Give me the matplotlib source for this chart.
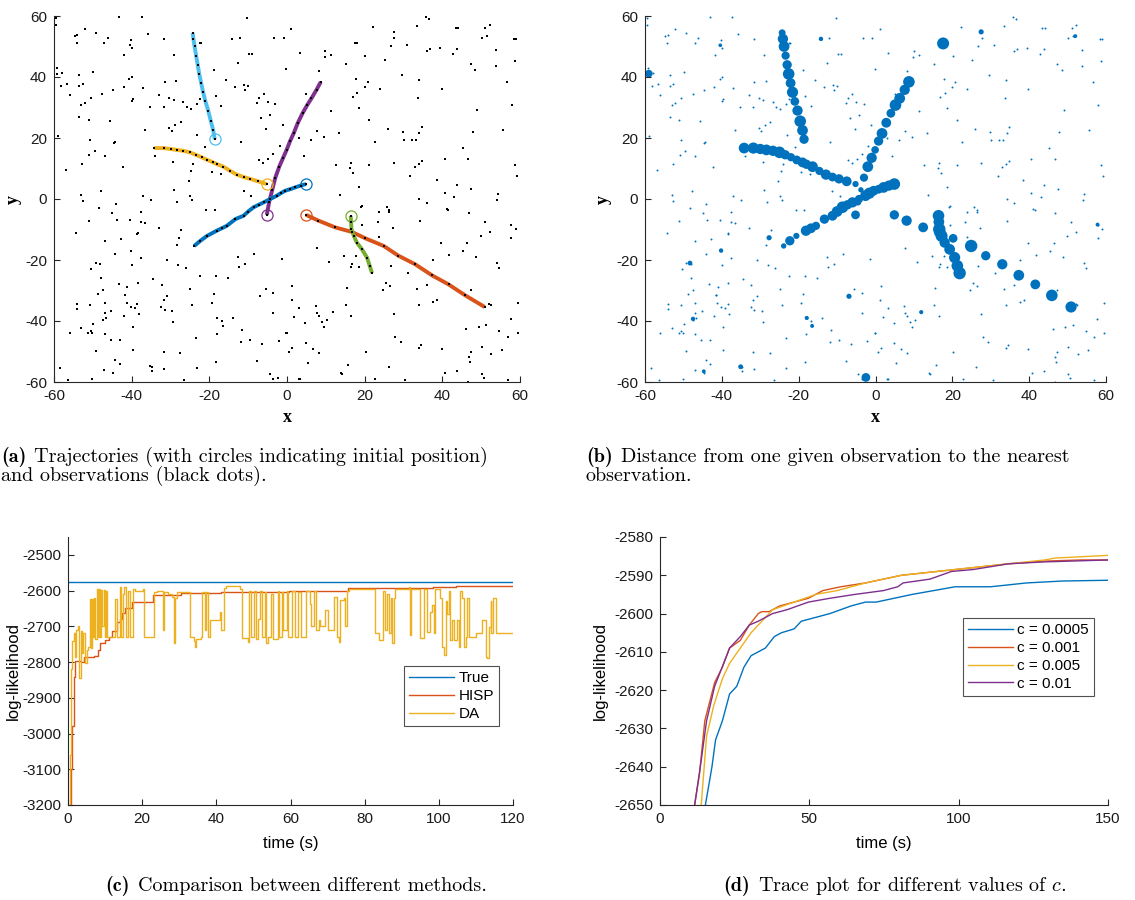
import matplotlib.pyplot as plt

# ---------------- data ----------------
# clutter observations (black dots in (a), small blue dots in (b))
clutter = [
    (-59.5, 59.5), (-59.5, 57.0), (-43.2, 59.7), (-37.3, 59.8), (-10.3, 59.5), (-52.1, 55.6), (-54.7, 53.5),
    (-54.0, 53.7), (-49.2, 54.5), (-54.2, 51.2), (-46.2, 52.7), (-47.1, 51.3), (-40.2, 52.1), (-40.4, 50.4),
    (-39.9, 49.5), (-35.9, 54.0), (-31.7, 52.5), (-29.1, 47.2), (-41.9, 47.1), (-14.2, 52.5), (-12.2, 52.7),
    (-22.5, 51.3), (-22.2, 51.0), (-3.3, 52.7), (-0.9, 52.7), (-9.1, 47.7), (-9.7, 47.4), (-12.6, 44.7),
    (-0.2, 42.7), (-59.3, 43.1), (-59.1, 41.1), (-58.0, 41.3), (-49.9, 41.8), (-53.6, 40.6), (-40.0, 40.0),
    (-40.6, 39.5), (-18.8, 42.4), (-15.8, 39.1), (-31.5, 38.5), (-28.6, 38.8), (-58.3, 37.2), (-56.7, 37.6),
    (-53.6, 37.2), (-52.6, 37.7), (-42.1, 36.8), (-44.7, 35.8), (-47.6, 34.4), (-56.0, 34.0), (-37.0, 36.5),
    (-33.0, 34.1), (-30.4, 33.1), (-29.2, 32.3), (-11.0, 37.3), (-10.0, 37.2), (-10.9, 35.9), (-13.4, 36.7),
    (-6.0, 34.5), (-7.1, 33.0), (-7.8, 31.4), (-5.0, 31.7), (-3.1, 31.2), (-18.4, 33.8), (-16.9, 30.4),
    (-39.6, 32.7), (-39.9, 32.2), (-52.1, 31.6), (-53.1, 30.8), (-50.5, 33.2), (-35.4, 30.1), (-31.8, 30.1),
    (-26.7, 31.8), (-25.8, 30.2), (-24.8, 29.4), (-23.2, 31.2), (-22.4, 32.9), (-53.5, 27.0), (-51.1, 25.8),
    (-45.6, 25.5), (-36.5, 22.6), (-30.3, 23.2), (-29.7, 22.3), (-28.8, 24.2), (-27.4, 25.4), (-6.6, 26.4),
    (-4.3, 27.5), (-5.4, 23.1), (-1.1, 24.1), (-59.0, 20.7), (-23.1, 21.0), (-11.9, 18.6), (-50.7, 19.2),
    (-44.4, 18.6), (-44.6, 18.2), (-21.0, 17.2), (-1.9, 17.5), (-49.5, 15.8), (-46.9, 14.1), (-50.9, 14.3),
    (-33.9, 14.0), (-52.8, 11.4), (-29.4, 12.2), (-7.1, 12.8), (-6.2, 11.7), (-3.6, 14.8), (-4.8, 13.1),
    (-42.3, 10.4), (-57.0, 9.6), (-24.1, 11.4), (-24.6, 9.1), (-19.3, 8.7), (-17.0, 8.2), (-25.3, 6.0),
    (-29.1, 3.0), (-47.8, 2.7), (-53.1, 1.2), (-37.0, 0.9), (-24.9, 1.0), (-11.2, 2.7), (-9.3, 1.0),
    (1.1, 55.7), (3.3, 48.0), (9.9, 48.4), (9.7, 46.6), (11.4, 47.1), (8.3, 42.0), (22.2, 56.5), (27.5, 54.8),
    (27.6, 52.8), (26.7, 50.1), (17.4, 51.0), (18.1, 51.1), (20.2, 47.0), (15.2, 44.4), (25.2, 45.7),
    (30.8, 50.6), (33.4, 56.8), (35.8, 59.8), (36.5, 59.0), (36.1, 48.6), (36.8, 49.3), (39.4, 49.4),
    (43.4, 56.0), (44.0, 56.1), (42.7, 47.4), (43.9, 49.1), (50.1, 52.8), (51.1, 56.2), (52.3, 56.9),
    (51.4, 53.4), (53.8, 48.8), (47.3, 44.2), (48.5, 42.2), (53.7, 43.5), (58.5, 52.3), (59.0, 52.4),
    (58.8, 45.2), (56.7, 38.4), (17.8, 39.4), (20.8, 38.3), (20.0, 36.6), (23.9, 36.0), (18.1, 34.6),
    (16.9, 33.6), (18.6, 29.8), (29.6, 40.5), (33.9, 38.9), (39.8, 36.2), (33.7, 33.0), (11.4, 28.9),
    (5.0, 34.3), (21.2, 25.9), (7.6, 22.2), (9.5, 20.4), (6.2, 19.3), (13.3, 21.8), (22.6, 18.7), (26.0, 22.8),
    (29.8, 21.9), (30.1, 19.3), (32.2, 19.5), (33.2, 19.5), (34.1, 21.6), (34.8, 23.6), (49.0, 29.3),
    (58.0, 30.8), (55.7, 22.7), (47.8, 21.9), (45.2, 16.8), (40.6, 13.2), (46.6, 13.2), (4.4, 14.1),
    (12.6, 11.0), (16.6, 11.8), (16.2, 10.1), (17.1, 8.5), (21.2, 11.2), (27.5, 11.7), (31.8, 7.7),
    (33.0, 10.4), (33.9, 11.4), (34.8, 12.6), (38.5, 6.3), (43.9, 4.5), (47.5, 3.3), (58.8, 11.1),
    (59.3, 7.7), (18.6, 3.8), (13.6, 1.3), (40.6, 1.9), (54.4, 1.7), (3.0, 20.0),
    (-52.6, -0.6), (-35.1, -0.2), (-28.2, -0.9), (-24.4, -0.4), (-44.0, -1.6), (-48.3, -3.0), (-37.7, -4.4),
    (-45.0, -4.7), (-51.1, -7.2), (-43.8, -6.8), (-40.4, -7.0), (-37.7, -7.4), (-36.5, -7.9), (-54.3, -11.3),
    (-38.3, -11.1), (-38.5, -11.5), (-32.9, -9.5), (-27.2, -10.1), (-20.8, -3.7), (-18.6, -3.6),
    (-27.7, -12.7), (-42.8, -13.1), (-46.9, -13.8), (-28.4, -15.1), (-40.2, -16.9), (-44.2, -18.0),
    (-37.5, -19.2), (-30.8, -19.9), (-49.2, -20.9), (-48.1, -21.3), (-50.4, -23.0), (-40.0, -21.5),
    (-28.0, -21.5), (-26.1, -22.6), (-48.0, -25.8), (-34.6, -26.1), (-38.3, -27.5), (-43.3, -28.0),
    (-41.1, -28.8), (-32.3, -28.1), (-47.5, -29.9), (-48.7, -31.0), (-41.6, -31.4), (-41.6, -31.6),
    (-30.8, -31.7), (-31.8, -33.0), (-24.9, -29.6), (-22.5, -25.4), (-18.4, -25.2), (-15.1, -25.9),
    (-12.7, -19.1), (-12.4, -22.2), (-10.7, -21.3), (-8.5, -18.0), (-1.4, -19.7), (-54.0, -34.5),
    (-54.0, -36.2), (-50.7, -34.9), (-46.9, -34.2), (-46.9, -37.4), (-41.3, -34.0), (-40.2, -35.4),
    (-39.2, -35.7), (-38.5, -34.4), (-45.2, -36.7), (-38.2, -37.6), (-32.5, -35.3), (-31.5, -36.4),
    (-29.6, -36.7), (-24.4, -34.7), (-19.3, -34.0), (-18.8, -31.1), (-5.5, -29.4), (-6.9, -31.9),
    (-3.6, -30.9), (-3.6, -37.4), (-42.1, -38.4), (-47.5, -39.7), (-46.6, -39.0), (-49.9, -40.9),
    (-53.1, -42.3), (-56.0, -43.8), (-51.2, -43.9), (-50.5, -43.2), (-50.2, -43.9), (-46.9, -44.2),
    (-39.7, -41.9), (-29.4, -40.4), (-23.4, -45.6), (-18.1, -44.1), (-17.9, -39.0), (-16.7, -39.9),
    (-16.5, -41.6), (-14.0, -39.0), (-11.5, -43.0), (-11.9, -46.9), (-9.5, -46.1), (-6.4, -47.6),
    (-2.1, -46.6), (-0.2, -43.8), (-49.2, -49.9), (-45.4, -46.3), (-43.0, -46.3), (-39.6, -49.6),
    (-31.8, -50.3), (-27.5, -50.4), (-44.2, -52.9), (-43.0, -54.2), (-58.5, -55.3), (-47.1, -56.0),
    (-44.7, -57.0), (-35.4, -54.8), (-34.7, -55.0), (-34.7, -56.5), (-31.6, -55.9), (-23.2, -55.5),
    (-18.4, -53.3), (-7.8, -53.1), (-4.5, -57.5), (-3.6, -59.0), (-2.4, -58.8), (-56.4, -59.5),
    (-50.2, -59.1), (-26.5, -59.3),
    (19.3, -2.2), (19.1, -2.6), (25.7, -2.6), (26.3, -3.5), (26.3, -4.4), (23.8, -4.1), (34.1, 0.0),
    (36.1, -1.3), (43.0, 0.5), (54.0, -0.4), (41.1, -3.3), (41.5, -3.7), (46.8, -4.6), (50.9, -7.4),
    (52.3, -10.8), (49.9, -12.2), (57.8, -8.4), (59.0, -9.9), (57.8, -12.9), (34.2, -7.2), (23.4, -7.7),
    (19.3, -8.6), (27.2, -9.4), (7.8, -16.1), (10.9, -20.8), (14.7, -18.6), (15.5, -29.1), (17.8, -18.6),
    (18.6, -22.2), (16.6, -22.4), (16.7, -21.4), (23.8, -12.4), (26.7, -21.9), (25.5, -27.4), (26.5, -28.5),
    (24.6, -29.8), (31.2, -24.1), (33.4, -29.6), (36.0, -28.3), (37.7, -20.0), (39.6, -14.4), (41.8, -18.3),
    (45.3, -17.2), (48.7, -18.9), (46.4, -14.3), (54.2, -21.1), (54.7, -22.6), (33.9, -34.8), (37.7, -33.7),
    (38.7, -33.1), (47.3, -29.8), (52.1, -34.3), (52.5, -34.9), (59.5, -34.0), (57.6, -39.5), (1.4, -28.6),
    (1.3, -33.0), (3.2, -35.6), (1.9, -38.6), (7.4, -35.0), (7.8, -37.5), (8.3, -38.2), (9.0, -40.4),
    (10.2, -39.8), (9.5, -42.1), (11.9, -37.1), (4.7, -40.5), (15.2, -34.7), (16.4, -38.4), (27.5, -37.6),
    (-0.1, -43.9), (4.9, -47.3), (6.6, -49.1), (1.4, -48.9), (0.6, -50.0), (8.3, -50.6), (5.4, -53.7),
    (15.7, -54.5), (14.1, -57.3), (13.8, -57.0), (20.3, -50.3), (26.2, -55.0), (27.9, -45.4), (29.4, -46.9),
    (33.9, -48.8), (34.4, -47.9), (39.8, -49.2), (46.1, -42.5), (49.4, -42.0), (51.3, -41.3), (54.7, -43.2),
    (56.8, -45.1), (59.5, -44.0), (50.1, -48.5), (47.3, -50.1), (46.8, -51.9), (47.1, -53.4), (52.6, -50.7),
    (55.4, -49.5), (40.8, -57.2), (43.9, -56.3), (50.2, -57.5), (50.7, -58.8), (46.6, -59.9), (56.9, -59.3),
    (22.7, -58.9), (30.5, -59.5), (3.0, -59.0), (3.3, -59.0),
]

# target trajectories (x, y) -- first point is the initial position
traj_lightblue_x = [-18.6, -19.0, -19.6, -20.3, -21.0, -21.6, -22.1, -22.6, -23.0, -23.4, -23.8, -24.1, -24.3]
traj_lightblue_y = [19.6, 22.5, 25.5, 29.0, 32.0, 35.0, 38.0, 41.0, 44.0, 47.0, 50.0, 52.5, 54.5]
traj_yellow_x = [-5.2, -7.5, -9.5, -11.2, -12.9, -14.6, -16.4, -18.0, -19.0, -20.5, -22.0, -23.5, -25.0, -26.7,
                 -28.4, -30.0, -31.8, -34.2]
traj_yellow_y = [4.9, 5.8, 6.6, 7.2, 8.0, 9.2, 10.6, 11.4, 12.0, 12.8, 13.7, 14.5, 15.3, 15.8, 16.1, 16.4, 16.7, 16.7]
traj_purple_x = [-5.2, -4.6, -3.8, -3.0, -2.0, -1.0, -0.1, 0.8, 1.7, 2.8, 4.0, 5.2, 6.3, 7.6, 8.7]
traj_purple_y = [-5.2, -1.0, 3.0, 7.0, 10.6, 13.5, 16.1, 19.0, 21.5, 25.0, 28.1, 30.8, 33.0, 35.8, 38.4]
traj_blue_x = [4.9, 3.5, 2.1, 0.8, -0.5, -1.6, -2.6, -4.3, -6.0, -7.3, -8.6, -10.0, -11.2, -13.3, -15.5, -16.8,
               -18.1, -20.6, -22.3, -23.9]
traj_blue_y = [4.9, 4.4, 3.8, 3.2, 2.7, 1.9, 1.1, 0.0, -1.1, -1.9, -2.7, -4.1, -5.5, -6.6, -8.8, -9.6, -10.4,
               -12.1, -13.7, -15.4]
traj_orange_x = [4.9, 8.1, 12.4, 16.7, 20.2, 24.9, 28.7, 33.0, 37.3, 41.6, 45.9, 50.9]
traj_orange_y = [-5.2, -7.1, -9.3, -10.8, -12.9, -15.4, -18.6, -21.4, -25.0, -28.0, -31.6, -35.4]
traj_green_x = [16.4, 16.5, 16.6, 17.2, 18.0, 19.3, 20.6, 21.3, 21.9]
traj_green_y = [-5.5, -7.5, -9.9, -12.1, -14.3, -16.5, -19.2, -21.9, -24.3]

# (b) marker sizes of the observations on each trajectory
size_lightblue = [45, 60, 70, 55, 40, 65, 50, 70, 45, 35, 60, 55, 25]
size_yellow = [20, 50, 45, 40, 55, 35, 60, 45, 50, 40, 35, 45, 70, 55, 60, 55, 65, 60]
size_purple = [40, 25, 15, 35, 60, 55, 30, 45, 60, 50, 40, 70, 60, 55, 70]
size_blue = [70, 55, 60, 40, 50, 65, 60, 35, 55, 45, 70, 60, 50, 45, 35, 50, 55, 20, 45, 15]
size_orange = [45, 55, 50, 70, 40, 80, 45, 55, 60, 50, 70, 65]
size_green = [70, 60, 80, 75, 55, 60, 65, 70, 80]
# (b) clutter observations with a larger nearest-neighbour marker
bigc_x = [17.6, -59.0, -2.5, 27.5, -14.2, -48.3, -47.5, -40.2, -27.7, -6.9, -17.9, -16.5, 11.9, -35.1,
          -44.7, 57.8, 52.0, -40.4]
bigc_y = [51.0, 41.1, -58.5, 54.8, 52.5, -21.0, -39.3, -16.9, -12.7, -31.9, -39.0, -41.6, -37.1, -55.0,
          -56.5, -8.4, 53.4, 50.4]
bigc_s = [75, 30, 40, 14, 10, 12, 10, 10, 14, 14, 9, 8, 9, 12, 8, 8, 8, 7]

# (c) comparison between methods
true_t = [0, 120]
true_ll = [-2577, -2577]
hisp_t = [0.5, 0.8, 1.2, 1.6, 1.9, 3.6, 4.2, 7.0, 8.2, 8.5, 10.1, 11.0, 11.9, 13.2, 14.1, 14.6, 15.5, 17.2,
          22.6, 22.8, 30.6, 41.3, 59.5, 75.5, 98.5, 104.5, 120]
hisp_ll = [-3200, -3100, -2980, -2841, -2797, -2800, -2785, -2783, -2767, -2748, -2739, -2730, -2712, -2689,
           -2680, -2662, -2650, -2632, -2632, -2613, -2607, -2604, -2601, -2594, -2590, -2588, -2588]
da_t = [0.3, 0.6, 0.9, 1.1, 1.5, 1.9, 2.1, 2.6, 2.9, 3.1, 3.4, 3.8, 4.1, 4.6, 5.1, 5.5, 5.9, 6.1, 6.5, 6.8,
        7.0, 7.2, 7.7, 8.0, 8.4, 8.7, 9.0, 9.3, 9.6, 9.9, 10.2, 10.5, 12.8, 13.2, 14.0, 14.4, 14.8, 15.2, 15.6,
        16.2, 16.6, 17.6, 18.0, 20.3, 20.6, 23.3, 24.0, 25.6, 26.0, 27.0, 28.1, 28.5, 28.8, 29.5, 32.6, 33.0,
        34.0, 34.3, 34.6, 35.8, 36.1, 36.9, 37.3, 37.8, 38.4, 41.0, 41.3, 42.0, 42.6, 46.5, 46.9, 48.5, 48.8,
        49.3, 50.1, 50.8, 51.2, 51.7, 52.2, 53.0, 53.4, 53.8, 54.7, 55.4, 56.5, 56.9, 57.6, 58.0, 59.0, 59.3,
        60.4, 61.3, 62.1, 62.7, 64.2, 65.3, 65.6, 66.3, 66.8, 67.6, 68.0, 69.4, 70.1, 71.7, 72.6, 73.0, 73.4,
        74.4, 74.8, 75.3, 75.7, 82.9, 83.8, 84.9, 85.6, 86.1, 86.6, 87.2, 87.4, 87.9, 88.3, 91.9, 92.2, 92.6,
        94.9, 96.0, 96.9, 97.6, 98.2, 98.7, 99.1, 100.4, 100.9, 101.3, 101.8, 102.2, 102.7, 103.1, 103.6,
        104.2, 105.0, 105.4, 105.8, 106.3, 106.7, 107.2, 107.7, 108.1, 109.9, 111.7, 112.6, 113.0, 113.5,
        114.0, 114.2, 114.6, 115.3, 120]
da_ll = [-3200, -3060, -2820, -2740, -2720, -2785, -2710, -2700, -2805, -2845, -2712, -2776, -2720, -2804,
         -2767, -2757, -2623, -2762, -2623, -2730, -2620, -2735, -2595, -2730, -2595, -2730, -2598, -2700,
         -2598, -2730, -2600, -2730, -2623, -2730, -2591, -2730, -2610, -2591, -2730, -2600, -2730, -2595,
         -2600, -2595, -2730, -2605, -2600, -2711, -2605, -2610, -2618, -2748, -2620, -2605, -2605, -2730,
         -2740, -2757, -2735, -2730, -2605, -2710, -2605, -2730, -2683, -2660, -2711, -2592, -2588, -2595,
         -2734, -2745, -2600, -2730, -2600, -2735, -2680, -2600, -2730, -2605, -2748, -2730, -2610, -2735,
         -2600, -2730, -2605, -2710, -2600, -2730, -2600, -2730, -2605, -2730, -2600, -2637, -2700, -2600,
         -2710, -2683, -2700, -2655, -2710, -2619, -2730, -2744, -2625, -2620, -2700, -2600, -2595, -2720,
         -2739, -2600, -2710, -2610, -2720, -2620, -2748, -2620, -2595, -2591, -2725, -2595, -2734, -2595,
         -2716, -2660, -2640, -2720, -2595, -2620, -2757, -2781, -2630, -2665, -2600, -2739, -2683, -2739,
         -2683, -2757, -2600, -2620, -2757, -2730, -2620, -2730, -2720, -2683, -2785, -2790, -2702, -2630,
         -2720, -2620, -2720, -2720]

# (d) trace plots for different c
c_labels = ['c = 0.0005', 'c = 0.001', 'c = 0.005', 'c = 0.01']
c0005_t = [15.0, 15.2, 17.4, 18.6, 20.9, 23.3, 25.7, 28.1, 30.5, 32.9, 35.3, 38.3, 40.7, 44.9, 47.3, 52.1,
           56.9, 64.0, 68.8, 72.4, 78.4, 84.4, 91.6, 98.8, 110.7, 122.7, 134.7, 150]
c0005_ll = [-2652, -2650, -2640, -2633, -2628, -2621, -2619, -2614, -2611, -2610, -2609, -2606, -2605, -2604,
            -2602, -2601, -2600, -2598, -2597, -2597, -2596, -2595, -2594, -2593, -2593, -2592, -2591.5,
            -2591.3]
c001_t = [11.4, 11.6, 13.2, 15.0, 18.3, 20.9, 23.3, 26.9, 29.9, 32.9, 34.1, 36.5, 40.1, 44.9, 49.7, 54.5,
          60.5, 68.8, 80.8, 92.8, 104.8, 116.7, 128.7, 140.7, 150]
c001_ll = [-2652, -2650, -2642, -2628, -2618, -2614, -2609, -2607, -2603, -2600, -2599.5, -2599.5, -2598,
           -2597, -2596, -2594, -2593, -2592, -2590, -2589, -2588, -2587, -2586.3, -2586, -2586]
c005_t = [13.6, 13.8, 15.6, 18.0, 20.9, 23.3, 26.9, 30.5, 34.1, 37.7, 44.9, 52.1, 59.3, 68.8, 80.8, 92.8,
          104.8, 116.7, 128.7, 132.3, 150]
c005_ll = [-2652, -2650, -2632, -2624, -2617, -2613, -2609, -2605, -2602, -2599, -2597, -2595, -2594, -2592,
           -2590, -2589, -2588, -2587, -2586, -2585.5, -2584.8]
c01_t = [11.4, 11.6, 13.5, 15.6, 18.3, 23.3, 26.9, 29.9, 32.9, 37.7, 42.5, 49.7, 56.9, 65.2, 74.8, 79.6,
         81.4, 90.4, 97.6, 104.8, 116.7, 128.7, 150]
c01_ll = [-2652, -2650, -2640, -2628, -2619, -2609, -2606, -2603, -2602, -2600, -2599, -2597, -2596, -2595,
          -2594, -2593, -2592, -2591, -2589, -2588.5, -2587, -2586.5, -2586]

# matlab default colours
BLUE = '#0072BD'
ORANGE = '#D95319'
YELLOW = '#EDB120'
PURPLE = '#7E2F8E'
GREEN = '#77AC30'
LBLUE = '#4DBEEE'

plt.rcParams['font.family'] = ['Liberation Sans', 'DejaVu Sans']
plt.rcParams['axes.unicode_minus'] = False
plt.rcParams['mathtext.fontset'] = 'cm'

W, H = 1135, 900
fig = plt.figure(figsize=(W / 100, H / 100), dpi=100)


def px_axes(left, top, right, bottom):
    return fig.add_axes([left / W, 1 - bottom / H, (right - left) / W, (bottom - top) / H])


def style(ax):
    for s in ['top', 'right']:
        ax.spines[s].set_visible(False)
    for s in ['left', 'bottom']:
        ax.spines[s].set_color('#262626')
        ax.spines[s].set_linewidth(0.8)
    ax.tick_params(direction='in', length=4, width=0.8, color='#262626', labelsize=11,
                   labelcolor='#1a1a1a', pad=5)


serif_lbl = dict(family='Liberation Serif', fontweight='bold', fontsize=13)
leg_kw = dict(loc='upper right', fontsize=11, frameon=True, fancybox=False, edgecolor='#262626',
              handlelength=2.9, borderpad=0.35, labelspacing=0.25, handletextpad=0.3, borderaxespad=0)

# ---------------- (a) ----------------
ax = px_axes(54, 16, 520, 382)
style(ax)
tracks = [
    (traj_lightblue_x, traj_lightblue_y, LBLUE),
    (traj_yellow_x, traj_yellow_y, YELLOW),
    (traj_purple_x, traj_purple_y, PURPLE),
    (traj_blue_x, traj_blue_y, BLUE),
    (traj_orange_x, traj_orange_y, ORANGE),
    (traj_green_x, traj_green_y, GREEN),
]
for tx, ty, col in tracks:
    ax.plot(tx, ty, color=col, lw=2.8, solid_capstyle='butt', zorder=2)
    ax.plot(tx[0], ty[0], 'o', mfc='none', mec=col, ms=8, mew=0.9, zorder=3)
    ax.plot(tx, ty, 's', color='black', ms=1.6, mew=0, zorder=4)
ax.plot([p[0] for p in clutter], [p[1] for p in clutter], 's', color='black', ms=1.6, mew=0)
ax.set_xlim(-60, 60)
ax.set_ylim(-60, 60)
ax.set_xticks(range(-60, 61, 20))
ax.set_yticks(range(-60, 61, 20))
ax.set_xlabel('x', **serif_lbl)
ax.set_ylabel('y', **serif_lbl)
ax.xaxis.set_label_coords(0.5, -0.074)
ax.yaxis.set_label_coords(-0.069, 0.5)

# ---------------- (b) ----------------
ax = px_axes(645, 16, 1106, 382)
style(ax)
ax.scatter([p[0] for p in clutter], [p[1] for p in clutter], s=2, color=BLUE, lw=0)
ax.scatter(bigc_x, bigc_y, s=bigc_s, color=BLUE, lw=0)
sizes = [size_lightblue, size_yellow, size_purple, size_blue, size_orange, size_green]
for (tx, ty, col), ss in zip(tracks, sizes):
    ax.scatter(tx, ty, s=ss, color=BLUE, lw=0)
ax.set_xlim(-60, 60)
ax.set_ylim(-60, 60)
ax.set_xticks(range(-60, 61, 20))
ax.set_yticks(range(-60, 61, 20))
ax.set_xlabel('x', **serif_lbl)
ax.set_ylabel('y', **serif_lbl)
ax.xaxis.set_label_coords(0.5, -0.074)
ax.yaxis.set_label_coords(-0.072, 0.5)

# ---------------- (c) ----------------
ax = px_axes(68, 537, 513, 805)
style(ax)
ax.plot(true_t, true_ll, color=BLUE, lw=1, label='True')
ax.plot(hisp_t, hisp_ll, color=ORANGE, lw=1, drawstyle='steps-post', label='HISP')
ax.plot(da_t, da_ll, color=YELLOW, lw=1, drawstyle='steps-post', label='DA')
ax.set_xlim(0, 120)
ax.set_ylim(-3200, -2450)
ax.set_xticks(range(0, 121, 20))
ax.set_yticks(range(-3200, -2499, 100))
ax.set_xlabel('time (s)', fontsize=12)
ax.set_ylabel('log-likelihood', fontsize=12)
ax.xaxis.set_label_coords(0.5, -0.115)
ax.yaxis.set_label_coords(-0.106, 0.5)
leg = ax.legend(bbox_to_anchor=(0.969, 0.519), **leg_kw)
leg.get_frame().set_linewidth(0.8)

# ---------------- (d) ----------------
ax = px_axes(660, 537, 1108, 805)
style(ax)
for tt, ll, col, lab in zip([c0005_t, c001_t, c005_t, c01_t], [c0005_ll, c001_ll, c005_ll, c01_ll],
                            [BLUE, ORANGE, YELLOW, PURPLE], c_labels):
    ax.plot(tt, ll, color=col, lw=1, label=lab)
ax.set_xlim(0, 150)
ax.set_ylim(-2650, -2580)
ax.set_xticks([0, 50, 100, 150])
ax.set_yticks(range(-2650, -2579, 10))
ax.set_xlabel('time (s)', fontsize=12)
ax.set_ylabel('log-likelihood', fontsize=12)
ax.xaxis.set_label_coords(0.5, -0.115)
ax.yaxis.set_label_coords(-0.116, 0.5)
leg = ax.legend(bbox_to_anchor=(0.969, 0.698), **leg_kw)
leg.get_frame().set_linewidth(0.8)

# ---------------- captions ----------------
cap = dict(fontsize=14.5, family='cmr10', va='center')
bold = dict(fontsize=14.5, family='cmb10', va='center')


def caption(x, y, tag, text, center=False):
    t1 = fig.text(0, 1 - y / H, tag, ha='left', **bold)
    t2 = fig.text(0, 1 - y / H, text, ha='left', **cap)
    fig.canvas.draw()
    w1 = t1.get_window_extent().width
    w2 = t2.get_window_extent().width
    gap = 8
    x0 = x - (w1 + gap + w2) / 2 if center else x
    t1.set_x(x0 / W)
    t2.set_x((x0 + w1 + gap) / W)


caption(1, 457, '(a)', 'Trajectories (with circles indicating initial position)')
fig.text(1 / W, 1 - 476 / H, 'and observations (black dots).', **cap)
caption(586, 457, '(b)', 'Distance from one given observation to the nearest')
fig.text(586 / W, 1 - 476 / H, 'observation.', **cap)
caption(296, 886, '(c)', 'Comparison between different methods.', center=True)
caption(895, 886, '(d)', 'Trace plot for different values of $c$.', center=True)

fig.savefig('out.png', dpi=100)
